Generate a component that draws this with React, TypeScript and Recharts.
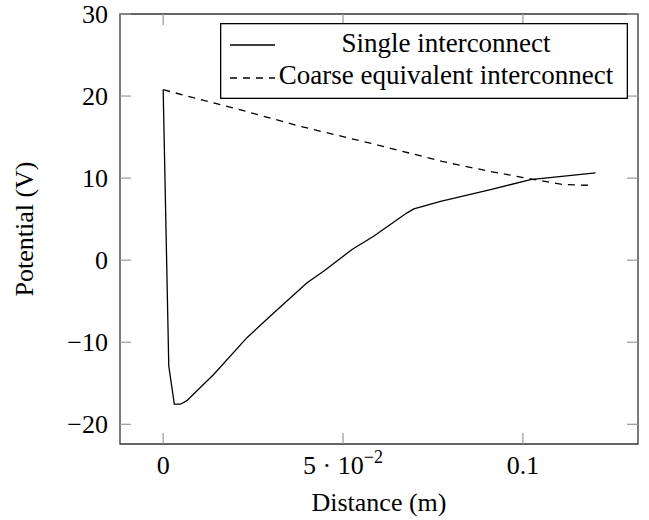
import React from 'react';
import { LineChart, Line, XAxis, YAxis, ReferenceArea, Legend } from 'recharts';

// Single interconnect (solid)
const singleX = [0, 0.00156, 0.0031, 0.0048, 0.0065, 0.0141, 0.0233, 0.0298, 0.04, 0.0446, 0.0525, 0.0585, 0.0678, 0.0697, 0.0771, 0.091, 0.1021, 0.1202];
const singleV = [20.77, -12.9, -17.55, -17.55, -17.15, -13.9, -9.44, -6.81, -2.75, -1.34, 1.3, 2.92, 5.77, 6.25, 7.18, 8.6, 9.82, 10.63];

// Coarse equivalent interconnect (dashed)
const coarseX = [0, 0.02, 0.0382, 0.06, 0.0775, 0.0817, 0.09, 0.1021, 0.1113, 0.1188];
const coarseV = [20.77, 18.5, 16.3, 14.0, 12.04, 11.64, 10.9, 9.9, 9.21, 9.12];

const xTicks = [0, 0.05, 0.1];
const yTicks = [-20, -10, 0, 10, 20, 30];
const xDomain = [-0.012, 0.132];
const yDomain = [-22.4, 30];

const seriesNames = ['Single interconnect', 'Coarse equivalent interconnect'];

const FONT = '"Liberation Serif", "Times New Roman", serif';
const W = 649;
const H = 520;
// plot box
const PL = 120;
const PR = 638;
const PT = 14;
const PB = 444;
const TICK = 11;

const singleData = singleX.map((x, i) => ({ x, v: singleV[i] }));
const coarseData = coarseX.map((x, i) => ({ x, v: coarseV[i] }));

const XTick = (props: any) => {
    const { x, payload } = props;
    const val = payload.value;
    let label: React.ReactNode = String(val);
    if (val === 0.05) {
        label = (
            <>
                {'5 · 10'}
                <tspan dy={-11} fontSize={18}>{'−2'}</tspan>
            </>
        );
    }
    return (
        <g>
            <line x1={x} x2={x} y1={PB - TICK} y2={PB} stroke="#999" strokeWidth={1.2} />
            <line x1={x} x2={x} y1={PT} y2={PT + TICK} stroke="#999" strokeWidth={1.2} />
            <text x={x} y={PB + 30} textAnchor="middle" fontFamily={FONT} fontSize={26} fill="#000">
                {label}
            </text>
        </g>
    );
};

const YTick = (props: any) => {
    const { y, payload } = props;
    const val = payload.value;
    const label = val < 0 ? '−' + Math.abs(val) : String(val);
    return (
        <g>
            <line x1={PL} x2={PL + TICK} y1={y} y2={y} stroke="#999" strokeWidth={1.2} />
            <line x1={PR - TICK} x2={PR} y1={y} y2={y} stroke="#999" strokeWidth={1.2} />
            <text x={108} y={y + 9} textAnchor="end" fontFamily={FONT} fontSize={26} fill="#000">
                {label}
            </text>
        </g>
    );
};

const XLabel = (props: any) => {
    const vb = props.viewBox || { x: PL, width: PR - PL };
    return (
        <text x={vb.x + vb.width / 2} y={511} textAnchor="middle" fontFamily={FONT} fontSize={26} fill="#000">
            Distance (m)
        </text>
    );
};

const YLabel = () => {
    const cy = (PT + PB) / 2;
    return (
        <text x={33} y={cy} textAnchor="middle" transform={`rotate(-90, 33, ${cy})`} fontFamily={FONT} fontSize={26} fill="#000">
            Potential (V)
        </text>
    );
};

// legend box drawn like the pgfplots one
const LegendBox = () => (
    <svg width={408} height={76} style={{ display: 'block' }}>
        <rect x={0.65} y={0.65} width={406.7} height={74.7} fill="#fff" stroke="#000" strokeWidth={1.3} />
        <line x1={10} x2={55} y1={22} y2={22} stroke="#000" strokeWidth={1.3} />
        <line x1={10} x2={55} y1={55} y2={55} stroke="#000" strokeWidth={1.3} strokeDasharray="7 6" />
        <text x={226} y={29} textAnchor="middle" fontFamily={FONT} fontSize={27}>{seriesNames[0]}</text>
        <text x={226} y={61} textAnchor="middle" fontFamily={FONT} fontSize={27}>{seriesNames[1]}</text>
    </svg>
);

const App: React.FC = () => {
    return (
        <div style={{ position: 'absolute', left: 0, top: 0, width: W, height: H, background: '#fff' }}>
            <LineChart width={W} height={H} margin={{ top: PT, right: W - PR, bottom: 0, left: 0 }}>
                <XAxis
                    dataKey="x"
                    type="number"
                    domain={xDomain}
                    ticks={xTicks}
                    allowDataOverflow
                    height={H - PB}
                    axisLine={false}
                    tickLine={false}
                    tick={<XTick />}
                    interval={0}
                    label={<XLabel />}
                />
                <YAxis
                    type="number"
                    domain={yDomain}
                    ticks={yTicks}
                    allowDataOverflow
                    width={PL}
                    axisLine={false}
                    tickLine={false}
                    tick={<YTick />}
                    interval={0}
                    label={<YLabel />}
                />
                <Line
                    data={singleData}
                    dataKey="v"
                    name={seriesNames[0]}
                    type="linear"
                    stroke="#000"
                    strokeWidth={1.3}
                    dot={false}
                    isAnimationActive={false}
                />
                <Line
                    data={coarseData}
                    dataKey="v"
                    name={seriesNames[1]}
                    type="linear"
                    stroke="#000"
                    strokeWidth={1.3}
                    strokeDasharray="7 6"
                    dot={false}
                    isAnimationActive={false}
                />
                <ReferenceArea
                    x1={xDomain[0]}
                    x2={xDomain[1]}
                    y1={yDomain[0]}
                    y2={yDomain[1]}
                    fill="none"
                    stroke="#333"
                    strokeWidth={1.3}
                    ifOverflow="visible"
                />
                <Legend
                    layout="vertical"
                    align="center"
                    verticalAlign="middle"
                    content={<LegendBox />}
                    wrapperStyle={{ left: 220, top: 23, width: 408, height: 76 }}
                />
            </LineChart>
        </div>
    );
};

export default App;
